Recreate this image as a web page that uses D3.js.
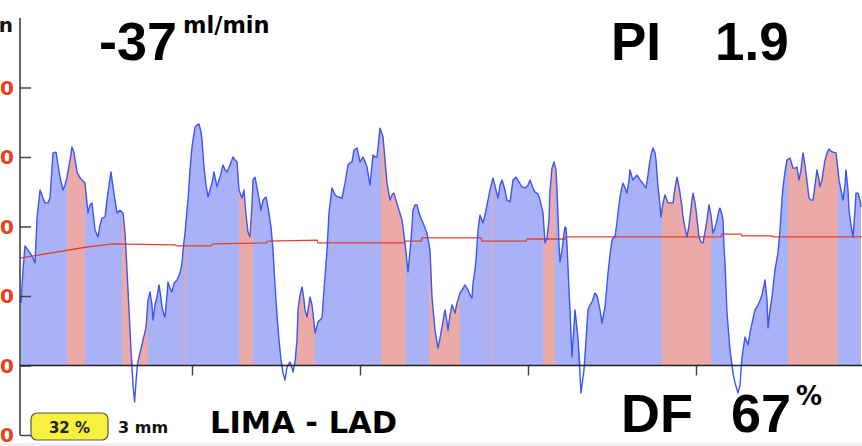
<!DOCTYPE html>
<html>
<head>
<meta charset="utf-8">
<script src="https://cdn.jsdelivr.net/npm/d3@7/dist/d3.min.js"></script>
<style>
  html, body { margin: 0; padding: 0; background: #fff; overflow: hidden; }
  svg { display: block; }
</style>
</head>
<body>
<svg id="chart" width="862" height="446"></svg>
<script>
// Transit-time flow recording, LIMA - LAD graft.
// Sample times in ms, flow in ml/min.
const sampleTimes = [
  5,15,25,40,50,65,75,85,100,115,
  125,140,150,165,180,190,200,215,225,235,
  250,260,270,285,300,310,325,340,350,360,
  375,390,400,410,425,435,445,455,465,475,
  485,500,515,525,535,545,555,565,573,580,
  588,600,615,630,640,650,660,665,675,685,
  695,705,710,720,725,735,740,750,760,770,
  785,800,810,815,825,835,840,850,860,875,
  885,895,905,910,920,930,940,950,960,970,
  980,985,995,1000,1015,1025,1035,1050,1065,1075,
  1085,1095,1110,1120,1130,1140,1150,1160,1165,1175,
  1190,1205,1215,1230,1240,1255,1265,1275,1285,1295,
  1305,1315,1325,1335,1350,1360,1365,1375,1385,1390,
  1400,1410,1420,1425,1435,1450,1460,1465,1475,1490,
  1500,1510,1515,1525,1535,1545,1560,1575,1590,1610,
  1625,1640,1650,1660,1670,1685,1700,1715,1725,1735,
  1750,1765,1775,1785,1800,1815,1825,1835,1850,1860,
  1870,1880,1890,1910,1925,1940,1955,1965,1975,1985,
  1995,2005,2015,2025,2035,2050,2060,2075,2090,2100,
  2110,2125,2135,2140,2150,2160,2170,2175,2185,2190,
  2200,2210,2225,2240,2250,2260,2265,2275,2280,2285,
  2290,2300,2315,2325,2335,2350,2365,2380,2390,2400,
  2410,2425,2435,2450,2465,2480,2495,2510,2525,2540,
  2550,2565,2575,2590,2600,2615,2625,2635,2645,2650,
  2660,2670,2680,2685,2690,2695,2700,2710,2720,2725,
  2730,2735,2745,2750,2760,2775,2790,2805,2820,2830,
  2840,2850,2860,2875,2885,2890,2900,2910,2920,2925,
  2935,2940,2950,2960,2970,2975,2985,2990,3000,3010,
  3015,3025,3035,3045,3050,3060,3065,3075,3085,3100,
  3110,3120,3130,3140,3145,3155,3165,3175,3180,3190,
  3200,3205,3215,3225,3235,3240,3255,3265,3275,3285,
  3295,3300,3310,3315,3325,3335,3345,3350,3360,3365,
  3375,3380,3390,3395,3405,3415,3425,3435,3445,3455,
  3465,3475,3485,3495,3500,3510,3515,3520,3525,3535,
  3550,3565,3575,3590,3600,3610,3625,3640,3650,3660,
  3675,3690,3700,3710,3725,3735,3740,3750,3760,3775,
  3790,3800,3810,3815,3825,3835,3850,3865,3875,3885,
  3895,3905,3915,3925,3930,3945,3955,3965,3975,3985,
  3995,4000,4010,4015,4025,4035,4045,4055,4065,4080,
  4090,4095,4105,4115,4125,4130,4140,4145,4155,4165,
  4175,4180,4190,4200,4205
];

const flowValues = [
  18.0,27.5,34.4,33.2,32.4,30.9,29.5,42.4,50.5,48.2,
  46.8,46.8,48.2,61.2,61.4,57.7,54.2,50.5,51.9,54.2,
  59.1,62.9,61.2,55.7,54.0,53.4,52.5,43.9,46.2,46.8,
  39.0,37.0,40.4,42.4,42.7,47.6,51.9,55.7,51.4,47.6,
  43.9,44.7,43.9,38.1,27.5,16.0,4.5,-5.6,-10.5,-4.7,
  0.7,3.6,7.3,10.8,18.8,21.2,17.4,13.1,17.4,19.7,
  23.2,19.4,16.8,14.5,14.0,20.3,24.0,22.3,21.2,23.7,
  24.6,26.6,29.5,33.2,38.1,44.7,47.6,56.3,62.9,68.6,
  69.2,69.5,67.2,64.9,57.1,51.9,48.5,50.5,52.5,55.7,
  52.8,51.4,53.4,54.2,57.7,56.3,55.7,57.7,60.0,59.1,
  58.6,50.5,48.2,50.5,43.3,38.4,37.0,46.2,53.4,54.2,
  49.6,44.7,47.6,48.5,45.6,39.9,33.2,23.2,14.5,7.3,
  1.6,-2.2,-4.2,-0.4,1.0,-0.7,-1.9,1.0,7.3,16.0,
  20.3,22.6,18.8,16.0,14.0,19.7,17.4,15.1,9.4,12.5,
  13.1,13.7,18.0,25.5,33.2,43.9,51.1,49.1,48.5,48.2,
  52.5,57.7,58.3,58.6,62.0,62.6,58.6,60.0,58.6,57.1,
  51.9,60.6,60.0,60.0,68.3,65.8,59.1,52.5,47.6,49.1,
  49.6,47.6,45.6,41.9,35.3,26.9,36.1,44.7,46.2,46.2,
  43.9,42.4,41.0,39.6,38.1,33.2,19.7,10.2,5.0,7.9,
  11.1,16.0,12.5,10.2,14.5,17.4,16.0,15.1,18.0,18.8,
  20.9,21.7,23.2,21.7,20.3,19.4,23.7,27.5,30.4,34.7,
  39.0,43.3,41.0,43.3,46.2,50.5,54.0,50.5,48.2,51.9,
  53.4,50.5,47.6,47.1,53.4,54.2,52.8,51.4,51.1,51.9,
  53.4,51.1,49.9,49.4,47.6,43.9,35.3,36.7,41.9,50.5,
  56.8,58.6,56.3,50.5,43.3,34.7,29.8,33.2,38.1,39.9,
  39.6,34.7,21.7,16.0,2.4,16.0,7.9,-7.9,-1.3,7.3,
  16.0,17.4,18.3,20.9,20.0,18.8,16.0,12.2,15.4,16.8,
  23.2,26.6,31.8,36.1,37.0,37.0,41.3,43.9,48.5,51.4,
  52.5,51.1,49.6,53.4,56.3,54.2,53.4,54.2,54.8,53.4,
  52.8,51.9,51.1,54.8,57.1,60.6,62.6,61.2,59.1,51.4,
  46.2,42.7,46.8,49.1,47.6,46.8,46.8,46.8,51.1,54.2,
  51.4,49.6,45.6,42.7,39.6,37.0,40.4,42.7,47.6,49.6,
  46.8,44.7,39.6,37.0,35.5,35.3,38.4,41.9,46.2,43.3,
  38.1,39.6,41.9,44.7,45.3,43.3,41.9,34.1,29.5,15.1,
  4.5,-2.2,-5.0,-7.9,-5.6,2.4,8.2,5.9,9.4,12.2,
  16.0,17.4,18.8,20.3,24.6,18.8,10.8,16.0,19.7,27.5,
  32.4,39.0,47.6,51.4,55.7,59.1,59.7,56.8,56.8,57.1,
  53.4,56.3,61.2,57.7,55.4,48.2,47.6,47.6,51.9,56.3,
  53.4,51.4,53.4,55.4,59.1,61.2,62.3,61.7,61.4,61.2,
  56.3,53.4,50.5,47.6,51.9,56.3,50.5,44.7,40.4,37.0,
  44.7,49.6,49.6,47.6,45.6
];

// Running mean flow (ml/min)
const meanTimes  = [0,335,465,775,785,955,965,1230,1240,1485,1490,1920,1925,2005,2010,2305,2310,2530,2535,2725,2730,3505,3510,3605,3610,3760,3765,4210];
const meanValues = [30.9,34.1,35.0,34.7,34.4,34.4,35.0,35.3,35.8,36.1,35.3,35.3,35.8,35.8,36.7,36.7,35.8,35.8,36.4,36.4,37.0,37.0,37.8,37.8,37.3,37.3,37.0,37.0];

// Systolic intervals (ms)
const systoleStart = [235,510,822,1095,1385,1805,2045,2357,2615,3210,3840];
const systoleEnd   = [325,640,829,1165,1475,1930,2200,2364,2675,3455,4090];

// Axis ticks
const flowTicks = [-20,0,20,40,60,80];
const timeTicks = [860,1700,2540,3380];

// Readouts
const meanFlowText = "-37";
const flowUnit = "ml/min";
const piText = "1.9";
const dfText = "67";
const graftName = "LIMA - LAD";
const ttfmCoverage = "32 %";
const probeSize = "3 mm";

const svg = d3.select("#chart");
const W = 862, H = 446;

const x = d3.scaleLinear().domain([0, 4210]).range([20, 862]);
const y = d3.scaleLinear().domain([-20, 100]).range([435, 18]);

const pts = sampleTimes.map((t, i) => ({ t, v: flowValues[i] }));
const meanPts = meanTimes.map((t, i) => ({ t, v: meanValues[i] }));

svg.append("rect").attr("width", W).attr("height", H).attr("fill", "#fff");
svg.append("rect").attr("x", 0).attr("y", 443).attr("width", W).attr("height", 3).attr("fill", "#efefef");

const defs = svg.append("defs");
const clip = defs.append("clipPath").attr("id", "systole");
systoleStart.forEach((s, i) => {
  clip.append("rect")
    .attr("x", x(s)).attr("y", 0)
    .attr("width", x(systoleEnd[i]) - x(s)).attr("height", H);
});

const area = d3.area()
  .x(d => x(d.t))
  .y0(y(0))
  .y1(d => y(Math.max(0, d.v)));

svg.append("path").datum(pts).attr("d", area).attr("fill", "#a9b1f7");
svg.append("path").datum(pts).attr("d", area).attr("fill", "#eba9a7").attr("clip-path", "url(#systole)");

// Mean flow line
svg.append("path").datum(meanPts)
  .attr("d", d3.line().x(d => x(d.t)).y(d => y(d.v)))
  .attr("fill", "none").attr("stroke", "#e2402e").attr("stroke-width", 1.3);

// Flow trace
svg.append("path").datum(pts)
  .attr("d", d3.line().x(d => x(d.t)).y(d => y(d.v)))
  .attr("fill", "none").attr("stroke", "#3d55f2").attr("stroke-width", 1.4)
  .attr("stroke-linejoin", "round");

// Y axis
const yAxis = d3.axisRight(y).tickValues(flowTicks).tickSize(11).tickFormat("");
const gy = svg.append("g").attr("transform", "translate(20,0)").call(yAxis);
gy.select(".domain").attr("d", `M0,${y(100)}V${y(-20)}`).attr("stroke", "#333").attr("stroke-width", 1.5);
gy.selectAll(".tick line").attr("stroke", "#444").attr("stroke-width", 1.5);

svg.append("g").selectAll("text").data(flowTicks).join("text")
  .attr("x", 14).attr("y", d => y(d))
  .attr("dy", "0.36em")
  .attr("text-anchor", "end")
  .attr("font-family", "DejaVu Sans, Verdana, sans-serif")
  .attr("font-weight", "bold").attr("font-size", 20)
  .attr("fill", "#e8401c")
  .text(d => d);

svg.append("text").attr("x", 13).attr("y", 32)
  .attr("text-anchor", "end")
  .attr("font-family", "DejaVu Sans, Verdana, sans-serif")
  .attr("font-weight", "bold").attr("font-size", 20)
  .attr("fill", "#111").text(flowUnit);

// X axis (zero line)
const xAxis = d3.axisBottom(x).tickValues(timeTicks).tickSize(10).tickFormat("");
const gx = svg.append("g").attr("transform", `translate(0,${y(0)})`).call(xAxis);
gx.select(".domain").attr("d", `M20,0H862`).attr("stroke", "#222").attr("stroke-width", 1.6);
gx.selectAll(".tick line").attr("stroke", "#444").attr("stroke-width", 1.5);

// Readouts
const arial = "Liberation Sans, Arial, Helvetica, sans-serif";
const verdana = "DejaVu Sans, Verdana, sans-serif";

svg.append("text").attr("x", 99).attr("y", 60)
  .attr("font-family", arial).attr("font-weight", "bold").attr("font-size", 54)
  .attr("fill", "#000").text(meanFlowText);
svg.append("text").attr("x", 183).attr("y", 33)
  .attr("font-family", verdana).attr("font-weight", "bold").attr("font-size", 22.5)
  .attr("fill", "#000").text(flowUnit);

svg.append("text").attr("x", 611).attr("y", 60)
  .attr("font-family", arial).attr("font-weight", "bold").attr("font-size", 53)
  .attr("fill", "#000").text("PI");
svg.append("text").attr("x", 715).attr("y", 60)
  .attr("font-family", arial).attr("font-weight", "bold").attr("font-size", 53)
  .attr("fill", "#000").text(piText);

svg.append("text").attr("x", 621).attr("y", 432)
  .attr("font-family", arial).attr("font-weight", "bold").attr("font-size", 54)
  .attr("fill", "#000").text("DF");
svg.append("text").attr("x", 731).attr("y", 432)
  .attr("font-family", arial).attr("font-weight", "bold").attr("font-size", 54)
  .attr("fill", "#000").text(dfText);
svg.append("text").attr("x", 796).attr("y", 405)
  .attr("font-family", verdana).attr("font-weight", "bold").attr("font-size", 26)
  .attr("fill", "#000").text("%");

svg.append("text").attr("x", 210).attr("y", 433)
  .attr("font-family", verdana).attr("font-weight", "bold").attr("font-size", 30.5)
  .attr("fill", "#000").text(graftName);

svg.append("rect").attr("x", 31).attr("y", 413).attr("width", 77).attr("height", 27)
  .attr("rx", 6).attr("fill", "#f7f03e").attr("stroke", "#555").attr("stroke-width", 1.2);
svg.append("text").attr("x", 69.5).attr("y", 433).attr("text-anchor", "middle")
  .attr("font-family", verdana).attr("font-weight", "bold").attr("font-size", 15)
  .attr("fill", "#222").text(ttfmCoverage);
svg.append("text").attr("x", 118).attr("y", 433)
  .attr("font-family", verdana).attr("font-weight", "bold").attr("font-size", 16)
  .attr("fill", "#111").text(probeSize);
</script>
</body>
</html>
